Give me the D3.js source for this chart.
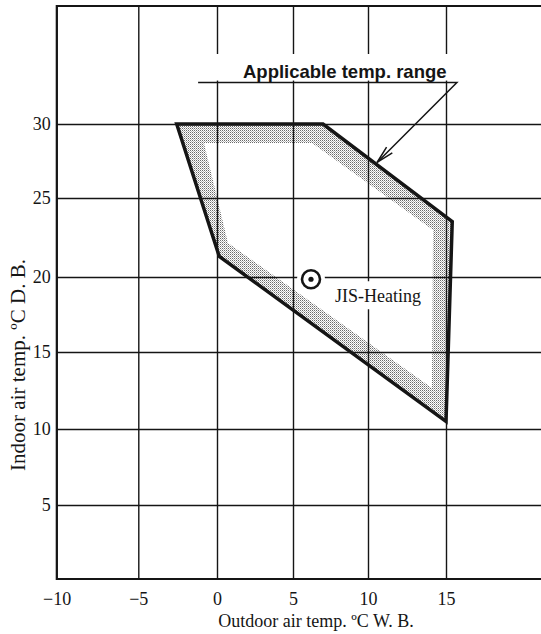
<!DOCTYPE html>
<html>
<head>
<meta charset="utf-8">
<script src="https://cdn.jsdelivr.net/npm/d3@7"></script>
<style>
  html, body { margin: 0; padding: 0; background: #fff; }
  svg { display: block; }
</style>
</head>
<body>
<script>
// ---- chart data -------------------------------------------------------
const xTicks = [-10, -5, 0, 5, 10, 15];
const xTickLabels = ["\u221210", "\u22125", "0", "5", "10", "15"];
const yTicks = [5, 10, 15, 20, 25, 30];
const yTickLabels = ["5", "10", "15", "20", "25", "30"];

// outer limit of the applicable range (outdoor °C WB, indoor °C DB)
const rangeOutdoor = [-2.56, 7.0, 15.4, 15.0, 0.15];
const rangeIndoor  = [30, 30, 23.5, 10.5, 21.3];

// inner edge of the shaded margin band
const bandOutdoor = [-0.83, 6.27, 14.17, 14.1, 0.72];
const bandIndoor  = [28.72, 28.72, 22.97, 12.66, 22.15];

// JIS heating rating point
const jisOutdoor = [6.2];
const jisIndoor  = [19.85];
const jisLabels  = ["JIS-Heating"];

// callout: leader line and arrow tip
const calloutOutdoor = [-1.2, 15.7, 10.58];
const calloutIndoor  = [32.8, 32.8, 27.4];
const calloutText = "Applicable temp. range";

const xTitle = "Outdoor air temp. \u00baC W. B.";
const yTitle = "Indoor air temp. \u00baC D. B.";

// ---- layout -----------------------------------------------------------
const W = 541, H = 634;
const ink = "#151515";
const serif = "'Liberation Serif', 'Times New Roman', serif";
const sans = "'Liberation Sans', Arial, sans-serif";

const svg = d3.select("body").append("svg")
  .attr("width", W).attr("height", H)
  .attr("viewBox", `0 0 ${W} ${H}`);

// the printed grid is slightly uneven, so the scales follow each gridline
const x = d3.scaleLinear()
  .domain(xTicks)
  .range([56.7, 138.3, 217, 293, 368, 446]);
const y = d3.scaleLinear()
  .domain([0, 5, 10, 15, 20, 25, 30])
  .range([579, 505, 429, 352, 277, 198, 124]);

const plotLeft = x(-10), plotBottom = y(0), plotTop = 6, plotRight = W;

// stipple used for the margin band
const defs = svg.append("defs");
const pat = defs.append("pattern")
  .attr("id", "stipple")
  .attr("width", 2).attr("height", 2)
  .attr("patternUnits", "userSpaceOnUse");
pat.append("rect").attr("width", 2).attr("height", 2).attr("fill", "#fff");
pat.append("rect").attr("x", 0).attr("y", 0).attr("width", 1).attr("height", 1).attr("fill", "#6a6a6a");
pat.append("rect").attr("x", 1).attr("y", 1).attr("width", 1).attr("height", 1).attr("fill", "#b4b4b4");

const outerPts = rangeOutdoor.map((v, i) => [v, rangeIndoor[i]]);
const innerPts = bandOutdoor.map((v, i) => [v, bandIndoor[i]]);
const line = d3.line().x(d => x(d[0])).y(d => y(d[1]));

// shaded band between outer limit and inner edge
svg.append("path")
  .attr("d", line(outerPts) + "Z" + line(innerPts) + "Z")
  .attr("fill", "url(#stipple)")
  .attr("fill-rule", "evenodd");

// ---- grid & axes ------------------------------------------------------
const xAxis = d3.axisBottom(x)
  .tickValues(xTicks)
  .tickFormat((d, i) => xTickLabels[i])
  .tickSizeInner(-(plotBottom - plotTop))
  .tickSizeOuter(0)
  .tickPadding(13);
const gx = svg.append("g")
  .attr("transform", `translate(0,${plotBottom})`)
  .call(xAxis);

const yAxis = d3.axisLeft(y)
  .tickValues(yTicks)
  .tickFormat((d, i) => yTickLabels[i])
  .tickSizeInner(-(plotRight - plotLeft))
  .tickSizeOuter(0)
  .tickPadding(6);
const gy = svg.append("g")
  .attr("transform", `translate(${plotLeft},0)`)
  .call(yAxis);

[gx, gy].forEach(g => {
  g.select(".domain").remove();
  g.selectAll(".tick line").attr("stroke", ink).attr("stroke-width", 1.4);
  g.selectAll(".tick text")
    .attr("fill", ink)
    .style("font-family", serif)
    .style("font-size", "18px");
});

// frame (left, bottom, top)
svg.append("path")
  .attr("d", `M${plotRight},${plotTop}H${plotLeft}V${plotBottom}H${plotRight}`)
  .attr("fill", "none")
  .attr("stroke", ink)
  .attr("stroke-width", 2);

// ---- clear space for annotations -------------------------------------
const [lx0, lx1, tipX] = calloutOutdoor.map(v => x(v));
const [ly, , tipY] = calloutIndoor.map(v => y(v));

svg.append("rect")
  .attr("x", lx0 + 8).attr("y", 54)
  .attr("width", lx1 - lx0 - 4).attr("height", ly - 56)
  .attr("fill", "#fff");

const jx = x(jisOutdoor[0]), jy = y(jisIndoor[0]);
svg.append("rect")
  .attr("x", jx + 21).attr("y", jy + 2)
  .attr("width", 96).attr("height", 28)
  .attr("fill", "#fff");
svg.append("circle")
  .attr("cx", jx).attr("cy", jy).attr("r", 14)
  .attr("fill", "#fff");

// ---- outer limit ------------------------------------------------------
svg.append("path")
  .attr("d", line(outerPts) + "Z")
  .attr("fill", "none")
  .attr("stroke", ink)
  .attr("stroke-width", 3.5)
  .attr("stroke-linejoin", "miter");

// ---- JIS point --------------------------------------------------------
svg.append("circle")
  .attr("cx", jx).attr("cy", jy).attr("r", 9)
  .attr("fill", "#fff")
  .attr("stroke", ink)
  .attr("stroke-width", 2.6);
svg.append("circle")
  .attr("cx", jx).attr("cy", jy).attr("r", 2.6)
  .attr("fill", ink);
svg.append("text")
  .attr("x", jx + 24).attr("y", jy + 23)
  .attr("fill", ink)
  .style("font-family", serif)
  .style("font-size", "18px")
  .text(jisLabels[0]);

// ---- callout ------------------------------------------------------------
svg.append("text")
  .attr("x", 243).attr("y", ly - 5)
  .attr("fill", ink)
  .style("font-family", sans)
  .style("font-weight", "bold")
  .style("font-size", "18.5px")
  .text(calloutText);

svg.append("path")
  .attr("d", `M${lx0},${ly}H${lx1}L${tipX},${tipY}`)
  .attr("fill", "none")
  .attr("stroke", ink)
  .attr("stroke-width", 1.5);

// open arrow head
const ang = Math.atan2(ly - tipY, lx1 - tipX);
const barb = 18, spread = 13 * Math.PI / 180;
const b1 = [tipX + barb * Math.cos(ang + spread), tipY + barb * Math.sin(ang + spread)];
const b2 = [tipX + barb * Math.cos(ang - spread), tipY + barb * Math.sin(ang - spread)];
svg.append("path")
  .attr("d", `M${b1[0]},${b1[1]}L${tipX},${tipY}L${b2[0]},${b2[1]}`)
  .attr("fill", "none")
  .attr("stroke", ink)
  .attr("stroke-width", 1.5);

// ---- axis titles ------------------------------------------------------
svg.append("text")
  .attr("x", 316).attr("y", 627)
  .attr("text-anchor", "middle")
  .attr("fill", ink)
  .style("font-family", serif)
  .style("font-size", "18px")
  .text(xTitle);

svg.append("text")
  .attr("transform", `translate(25,${365}) rotate(-90)`)
  .attr("text-anchor", "middle")
  .attr("fill", ink)
  .style("font-family", serif)
  .style("font-size", "21px")
  .text(yTitle);
</script>
</body>
</html>
